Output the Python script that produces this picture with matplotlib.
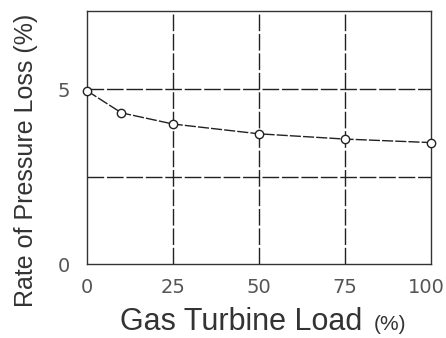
import matplotlib
matplotlib.use("Agg")
import matplotlib.pyplot as plt
import matplotlib.transforms as mtransforms

load = [0, 10, 25, 50, 75, 100]
loss = [4.95, 4.32, 4.0, 3.72, 3.57, 3.47]
xticks = [0, 25, 50, 75, 100]
yticks = [0, 5]
hgrid = [2.5, 5]

fig = plt.figure(figsize=(4.46, 3.38), dpi=100)
ax = fig.add_axes([87/446, 1-264/338, (431-87)/446, (264-11)/338])
ax.set_xlim(0, 100)
ax.set_ylim(0, 7.23)
for x in xticks[1:-1]:
    ax.axvline(x, color="#222222", lw=1.0, ls=(0, (12, 2)), zorder=1)
for y in hgrid:
    ax.axhline(y, color="#222222", lw=1.0, ls=(0, (12, 2)), zorder=1)
ax.plot(load, loss, color="#222222", lw=1.0, ls=(0, (8, 1.5)), marker="o", ms=6,
        mfc="white", mec="#222222", mew=1.0, zorder=3, clip_on=False)
for s in ax.spines.values():
    s.set_color("#333333")
    s.set_linewidth(1.0)
ax.set_xticks(xticks)
ax.set_yticks(yticks)
ax.tick_params(axis="x", length=0, pad=10)
ax.tick_params(axis="y", length=0, pad=12)
ax.tick_params(labelsize=14, labelcolor="#555555")
for lab in ax.get_xticklabels() + ax.get_yticklabels():
    lab.set_fontfamily("Liberation Sans Narrow")
last = ax.get_xticklabels()[-1]
last.set_transform(last.get_transform() +
                   mtransforms.ScaledTranslation(-5/100, 0, fig.dpi_scale_trans))

fig.text(120/446, 1-322/338, "Gas Turbine Load", ha="left", va="center",
         fontsize=22, color="#333333", family="Liberation Sans")
fig.text(374/446, 1-324/338, "(%)", ha="left", va="center",
         fontsize=15, color="#333333", family="Liberation Sans")
fig.text(26/446, 1-160/338, "Rate of Pressure Loss (%)", ha="center", va="center",
         rotation=90, fontsize=18, color="#333333", family="Liberation Sans")
fig.savefig("out.png", dpi=100)
